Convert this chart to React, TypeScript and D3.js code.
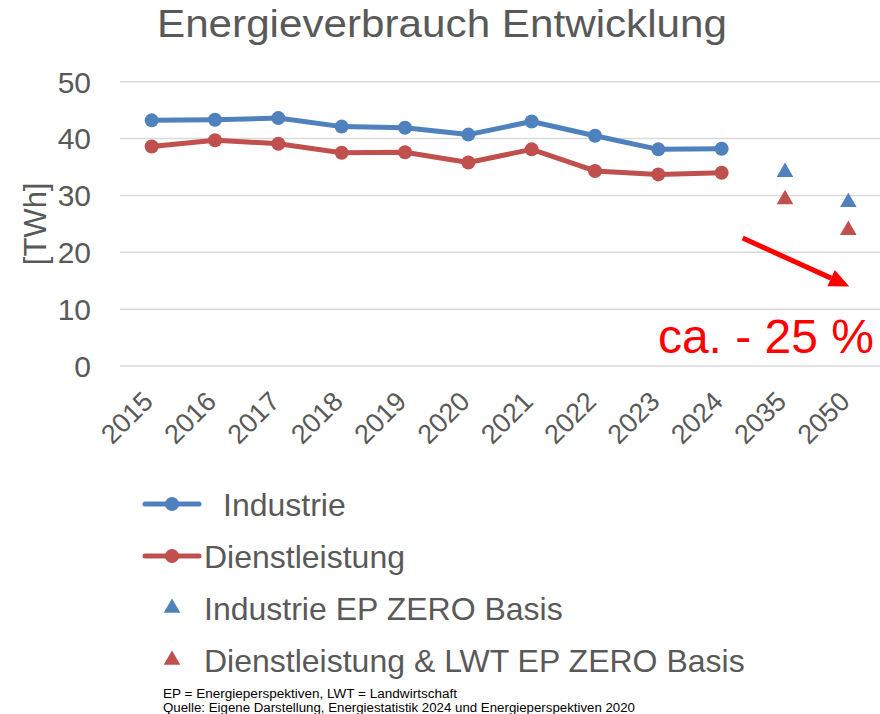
import React from 'react';
import * as d3 from 'd3';

const years = ['2015', '2016', '2017', '2018', '2019', '2020', '2021', '2022', '2023', '2024', '2035', '2050'];
const histYears = ['2015', '2016', '2017', '2018', '2019', '2020', '2021', '2022', '2023', '2024'];
const industrie = [43.2, 43.3, 43.6, 42.1, 41.9, 40.7, 43.0, 40.5, 38.1, 38.2];
const dienstleistung = [38.6, 39.7, 39.1, 37.5, 37.6, 35.8, 38.1, 34.3, 33.7, 34.0];
const projYears = ['2035', '2050'];
const industrieZero = [34.1, 28.8];
const dienstZero = [29.3, 23.9];
const yTicks = [0, 10, 20, 30, 40, 50];

const BLUE = '#4F81BD';
const RED = '#C0504D';
const GREY = '#595959';
const FONT = '"Liberation Sans", Arial, sans-serif';

const App = () => {
  const width = 880;
  const height = 714;

  const x = d3.scaleBand().domain(years).range([120, 880]);
  const y = d3.scaleLinear().domain([0, 50]).range([366, 81.7]);
  const cx = (yr: string) => (x(yr) as number) + x.bandwidth() / 2;

  const line = d3.line<number>()
    .x((_d, i) => cx(histYears[i]))
    .y(d => y(d));

  const tri = d3.symbol().type(d3.symbolTriangle).size(120);

  // arrow from the last measured year toward 2050
  const ax1 = cx('2024') + 21, ay1 = y(22.5);
  const ax2 = cx('2050') + 1, ay2 = y(14.0);
  const ang = Math.atan2(ay2 - ay1, ax2 - ax1);
  const headLen = 20, headW = 9;
  const bx = ax2 - headLen * Math.cos(ang), by = ay2 - headLen * Math.sin(ang);
  const head = [
    [ax2, ay2],
    [bx + headW * Math.sin(ang), by - headW * Math.cos(ang)],
    [bx - headW * Math.sin(ang), by + headW * Math.cos(ang)],
  ].map(p => p.join(',')).join(' ');

  const legendRows = [
    { label: 'Industrie', kind: 'line', color: BLUE, ty: 504, tx: 223 },
    { label: 'Dienstleistung', kind: 'line', color: RED, ty: 556, tx: 204 },
    { label: 'Industrie EP ZERO Basis', kind: 'tri', color: BLUE, ty: 608, tx: 204 },
    { label: 'Dienstleistung & LWT EP ZERO Basis', kind: 'tri', color: RED, ty: 660, tx: 204 },
  ];

  const noteFont = '"Liberation Sans Narrow", "Liberation Sans", sans-serif';

  return (
    <svg width={width} height={height} style={{ position: 'absolute', left: 0, top: 0, background: '#fff' }}
      fontFamily={FONT}>
      <text x={157} y={37} fontSize={39} fill={GREY} textLength={570} lengthAdjust="spacingAndGlyphs">
        Energieverbrauch Entwicklung
      </text>

      {yTicks.map(t => (
        <g key={t}>
          <line x1={120} x2={880} y1={y(t)} y2={y(t)} stroke="#D9D9D9" strokeWidth={1.5} />
          <text x={91} y={y(t)} dy="0.36em" textAnchor="end" fontSize={30} fill={GREY}>{t}</text>
        </g>
      ))}
      <text transform={`translate(46,${y(25)}) rotate(-90)`} textAnchor="middle" fontSize={31} fill={GREY}>[TWh]</text>

      {years.map(yr => (
        <text key={yr} transform={`translate(${cx(yr) + 3},${403}) rotate(-45)`} textAnchor="end"
          fontSize={27} fill={GREY}>{yr}</text>
      ))}

      <path d={line(industrie) as string} fill="none" stroke={BLUE} strokeWidth={5} strokeLinejoin="round" />
      {industrie.map((v, i) => <circle key={'b' + i} cx={cx(histYears[i])} cy={y(v)} r={7} fill={BLUE} />)}
      <path d={line(dienstleistung) as string} fill="none" stroke={RED} strokeWidth={5} strokeLinejoin="round" />
      {dienstleistung.map((v, i) => <circle key={'r' + i} cx={cx(histYears[i])} cy={y(v)} r={7} fill={RED} />)}

      {industrieZero.map((v, i) => (
        <path key={'bt' + i} d={tri() as string} transform={`translate(${cx(projYears[i])},${y(v)})`} fill={BLUE} />
      ))}
      {dienstZero.map((v, i) => (
        <path key={'rt' + i} d={tri() as string} transform={`translate(${cx(projYears[i])},${y(v)})`} fill={RED} />
      ))}

      <line x1={ax1} y1={ay1} x2={bx} y2={by} stroke="#FF0000" strokeWidth={5} />
      <polygon points={head} fill="#FF0000" />
      <text x={874} y={353} textAnchor="end" fontSize={48} fill="#FF0000">ca. - 25 %</text>

      {legendRows.map(r => (
        <g key={r.label}>
          {r.kind === 'line' ? (
            <g>
              <line x1={145} x2={199} y1={r.ty} y2={r.ty} stroke={r.color} strokeWidth={5} strokeLinecap="round" />
              <circle cx={172} cy={r.ty} r={7} fill={r.color} />
            </g>
          ) : (
            <path d={tri() as string} transform={`translate(172,${r.ty})`} fill={r.color} />
          )}
          <text x={r.tx} y={r.ty} dy="0.36em" fontSize={32} fill={GREY}>{r.label}</text>
        </g>
      ))}

      <text x={163} y={698} fontSize={12} fill="#000" fontFamily={noteFont} textLength={294} lengthAdjust="spacingAndGlyphs">
        EP = Energieperspektiven, LWT = Landwirtschaft
      </text>
      <text x={163} y={712} fontSize={12} fill="#000" fontFamily={noteFont} textLength={472} lengthAdjust="spacingAndGlyphs">
        Quelle: Eigene Darstellung, Energiestatistik 2024 und Energieperspektiven 2020
      </text>
    </svg>
  );
};

export default App;
